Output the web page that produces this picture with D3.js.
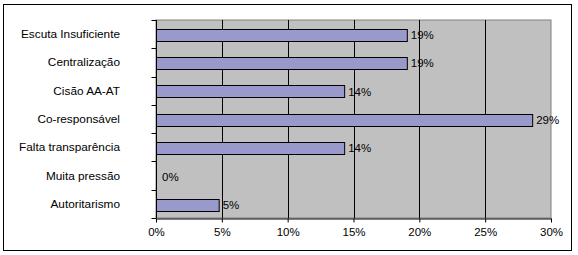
<!DOCTYPE html>
<html>
<head>
<meta charset="utf-8">
<script src="https://cdn.jsdelivr.net/npm/d3@7"></script>
<style>
  html, body { margin: 0; padding: 0; background: #fff; }
  svg { display: block; font-family: "Liberation Sans", Arial, sans-serif; }
</style>
</head>
<body>
<div id="chart"></div>
<script>
// answers out of 21 respondents, shown as share
const categories = ['Escuta Insuficiente', 'Centralização', 'Cisão AA-AT', 'Co-responsável',
  'Falta transparência', 'Muita pressão', 'Autoritarismo'];
const values = [0.1905, 0.1905, 0.1429, 0.2857, 0.1429, 0, 0.0476];
const xTicks = [0, 0.05, 0.10, 0.15, 0.20, 0.25, 0.30];

const width = 578, height = 255;
const margin = { top: 20, right: 27, bottom: 37, left: 156 };
const plotW = width - margin.left - margin.right;
const plotH = height - margin.top - margin.bottom;

const svg = d3.select('#chart').append('svg')
  .attr('width', width)
  .attr('height', height);

// outer frame
svg.append('rect')
  .attr('x', 3.5).attr('y', 4.5)
  .attr('width', 568).attr('height', 246)
  .attr('fill', '#fff')
  .attr('stroke', '#000')
  .attr('stroke-width', 1);

const g = svg.append('g')
  .attr('transform', `translate(${margin.left},${margin.top})`);

const x = d3.scaleLinear().domain([0, 0.30]).range([0, plotW]);
const y = d3.scaleBand().domain(categories).range([0, plotH]).padding(0);

// plot area
g.append('rect')
  .attr('x', 0).attr('y', 0)
  .attr('width', plotW).attr('height', plotH)
  .attr('fill', '#c0c0c0')
  .attr('stroke', '#808080')
  .attr('stroke-width', 1);

// vertical gridlines
g.append('g').selectAll('line')
  .data(xTicks.slice(1, -1))
  .join('line')
  .attr('x1', d => Math.round(x(d)) + 0.5).attr('x2', d => Math.round(x(d)) + 0.5)
  .attr('y1', 0).attr('y2', plotH)
  .attr('stroke', '#000');

// bars
const barH = y.bandwidth() * 0.44;
g.append('g').selectAll('rect')
  .data(values.map((v, i) => ({ cat: categories[i], v })).filter(d => d.v > 0))
  .join('rect')
  .attr('x', 0.5)
  .attr('y', d => Math.round(y(d.cat) + (y.bandwidth() - barH) / 2 + 1) + 0.5)
  .attr('width', d => x(d.v))
  .attr('height', Math.round(barH))
  .attr('fill', '#9999cc')
  .attr('stroke', '#000')
  .attr('stroke-width', 1);

// value labels
g.append('g').selectAll('text')
  .data(values.map((v, i) => ({ cat: categories[i], v })))
  .join('text')
  .attr('x', d => x(d.v) + (d.v > 0 ? 4 : 6))
  .attr('y', d => y(d.cat) + y.bandwidth() / 2 + 5)
  .attr('font-size', '11.5px')
  .attr('fill', '#000')
  .text(d => Math.round(d.v * 100) + '%');

// x axis
const xAxis = g.append('g')
  .attr('transform', `translate(0,${plotH + 0.5})`)
  .call(d3.axisBottom(x).tickValues(xTicks).tickFormat(d3.format('.0%')).tickSize(4).tickSizeOuter(0));
xAxis.select('.domain').attr('stroke', '#000');
xAxis.selectAll('.tick line').attr('stroke', '#000');
xAxis.selectAll('.tick text')
  .attr('font-size', '11.5px')
  .attr('font-family', '"Liberation Sans", Arial, sans-serif')
  .attr('fill', '#000')
  .attr('dy', '0.95em');

// y axis: ticks on band boundaries
const yAxisG = g.append('g').attr('transform', 'translate(0.5,0)');
yAxisG.append('line')
  .attr('x1', 0).attr('x2', 0)
  .attr('y1', 0).attr('y2', plotH)
  .attr('stroke', '#000');
yAxisG.selectAll('line.tk')
  .data(d3.range(categories.length + 1))
  .join('line')
  .attr('class', 'tk')
  .attr('x1', -5).attr('x2', 0)
  .attr('y1', i => Math.round(i * y.step()) + 0.5)
  .attr('y2', i => Math.round(i * y.step()) + 0.5)
  .attr('stroke', '#000');

// category labels
g.append('g').selectAll('text')
  .data(categories)
  .join('text')
  .attr('x', -36)
  .attr('y', d => y(d) + y.bandwidth() / 2 + 4)
  .attr('text-anchor', 'end')
  .attr('font-size', '11.8px')
  .attr('fill', '#000')
  .text(d => d);
</script>
</body>
</html>
